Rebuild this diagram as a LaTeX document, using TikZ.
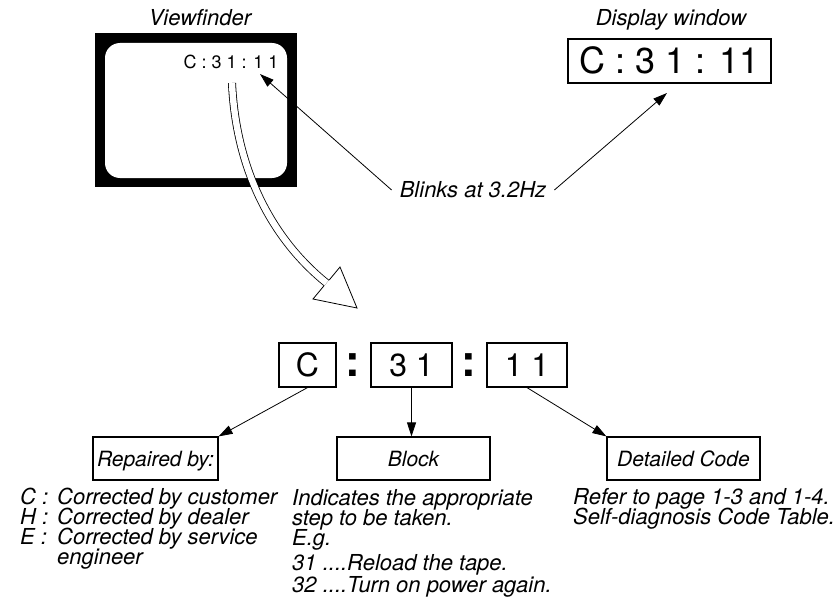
\documentclass[tikz,border=0pt]{standalone}
\usepackage{fontspec}
\setmainfont{TeX Gyre Heros}
\usetikzlibrary{arrows.meta,positioning}
\setlength{\lineskiplimit}{-8pt}
\tikzset{
  codebox/.style={draw, line width=1.2pt, inner sep=0pt, minimum height=44pt,
    text height=23pt, text depth=0pt, font=\fontsize{32}{32}\selectfont},
  labelbox/.style={draw, line width=1.2pt, inner sep=0pt, minimum width=153pt,
    minimum height=43pt, text height=15pt, text depth=0pt,
    font=\fontsize{21}{21}\selectfont\itshape},
  caption/.style={inner sep=0pt, font=\fontsize{22}{20}\selectfont\itshape},
  pointer/.style={line width=0.8pt, -{Triangle[length=14pt,width=9pt]}},
  colonmark/.style={inner sep=0pt, font=\fontsize{44}{44}\selectfont\bfseries}
}

\begin{document}
\begin{tikzpicture}[x=1pt,y=-1pt]
  \useasboundingbox (0,0) rectangle (835,602);
  % viewfinder
  \node[caption] (vftitle) at (200,18) {Viewfinder};
  \fill (95,33) rectangle (297,187);
  \fill[white, rounded corners=15pt] (105,43) rectangle (287,178);
  \node[inner sep=0pt, font=\fontsize{18}{18}\selectfont] (vfcode) at (231,62) {C : 3 1 : 1 1};
  % display window
  \node[caption] (dwtitle) at (671,20) {Display window};
  \node[draw, line width=1.2pt, inner sep=0pt, minimum width=203pt, minimum height=44pt,
    text height=26pt, text depth=0pt, font=\fontsize{36}{36}\selectfont] (dwcode) at (669.5,61) {C : 3 1 : 11};
  % blink note
  \node[caption, inner xsep=8pt] (blink) at (473,190) {Blinks at 3.2Hz};
  \coordinate (vftip) at (260,74);
  \coordinate (dwtip) at (667,93);
  \draw[pointer] (blink.west) -- (vftip);
  \draw[pointer] (blink.east) -- (dwtip);
  % hollow arrow
  \coordinate (hstart) at (232,83);
  \coordinate (hbase) at (326.5,283);
  \draw[line width=0.8pt, double, double distance=6.4pt]
    (hstart) .. controls (236,170) and (272,239) .. (hbase);
  \draw[line width=0.8pt] (323.8,286) -- (313,299) -- (357,308) -- (340,267) -- (329.2,280);
  % code fields
  \node[codebox, minimum width=57pt] (cfield) at (307.5,365) {C};
  \node[codebox, minimum width=81pt] (bfield) at (411.5,365) {3 1};
  \node[codebox, minimum width=80pt] (dfield) at (527,365) {1 1};
  \node[colonmark] (colona) at (353,365) {:};
  \node[colonmark] (colonb) at (469,365) {:};
  % label boxes
  \node[labelbox, minimum width=125pt] (repair) at (155.5,458.5) {Repaired by:};
  \node[labelbox] (block) at (413.5,458.5) {Block};
  \node[labelbox] (detail) at (683.5,458.5) {Detailed Code};
  % arrows
  \draw[pointer] (cfield.south) -- (repair.north east);
  \draw[pointer] (bfield.south) -- (bfield.south |- block.north);
  \draw[pointer] (dfield.south) -- (detail.north west);
  % explanations (anchored at the baseline of the last line)
  \node[caption, anchor=base west, align=left] (keys) at (20,544) {C :\\H :\\E :};
  \node[caption, anchor=base west, align=left] (keytext) at (57,564)
    {Corrected by customer\\Corrected by dealer\\Corrected by service\\engineer};
  \node[caption, anchor=base west, align=left] (blocktext) at (292,592)
    {Indicates the appropriate\\step to be taken.\\E.g.\\[5pt]31 ....Reload the tape.\\[2pt]32 ....Turn on power again.};
  \node[caption, anchor=base west, align=left] (detailtext) at (573,524)
    {Refer to page 1-3 and 1-4.\\Self-diagnosis Code Table.};
\end{tikzpicture}
\end{document}
